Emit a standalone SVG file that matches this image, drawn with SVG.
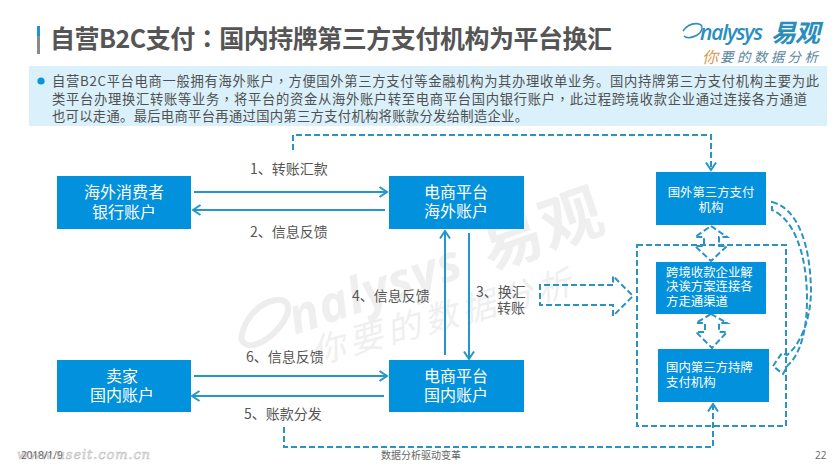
<svg xmlns="http://www.w3.org/2000/svg" width="840" height="472" viewBox="0 0 840 472">
<style>
text{font-family:"Noto Sans CJK SC","Open Sans",sans-serif}
.tc{font-family:"Noto Sans CJK TC",sans-serif}
.box{fill:#0291dc}
.nt{fill:#fff;font-size:16px;text-anchor:middle}
.st{fill:#fff;font-size:12.4px}
.lb{fill:#555;font-size:14px}
.band{fill:#505050;font-size:13.3px}
.ln{fill:none;stroke:#2496ca;stroke-width:2}
.ds{fill:none;stroke:#2b93c4;stroke-width:2;stroke-dasharray:6 3}
.ft{fill:#666;font-size:10px}
.wm{fill:#efefef}
</style>
<defs>
<marker id="ah" viewBox="0 0 12 12" refX="10.5" refY="6" markerWidth="12" markerHeight="12" markerUnits="userSpaceOnUse" orient="auto"><path d="M3 1L10.5 6L3 11" fill="none" stroke="#2496ca" stroke-width="2"/></marker>
</defs>
<rect width="840" height="472" fill="#fff"/>
<g id="watermark">
<g transform="translate(295 335) rotate(-19)">
<path d="M-52 -14C-40 -40 -6 -46 2 -34C8 -22 -22 -2 -42 -4C-50 -5 -52 -10 -52 -14Z" fill="none" stroke="#ededed" stroke-width="6"/>
<text x="0" y="0" class="wm" font-size="50" font-weight="700" font-style="italic" style="font-family:'Open Sans',sans-serif" textLength="180">nalysys</text>
<text x="205" y="2" class="wm" font-size="62" font-weight="700" textLength="125">易观</text>
</g>
<text transform="translate(315 365) rotate(-15.5)" class="wm" font-size="34" font-style="italic" textLength="268">你要的数据分析</text>
</g>
<g id="title">
<rect x="37" y="26" width="3" height="10" fill="#1b95d3"/>
<rect x="37" y="36" width="3" height="18" fill="#8a8a8a"/>
<text x="50" y="48" font-size="25" font-weight="700" fill="#555" class="tc" textLength="562" lengthAdjust="spacing">自营B2C支付：国内持牌第三方支付机构为平台换汇</text>
</g>
<g id="logo">
<path d="M683 31C690 21 704 22 702 29C700 36 688 40 684 36" fill="none" stroke="#2d8fb8" stroke-width="1.6"/>
<text x="700" y="40" font-size="21" font-weight="600" font-style="italic" fill="#2a8ebc" style="font-family:'Open Sans',sans-serif" textLength="63">nalysys</text>
<text x="771" y="42" font-size="25" font-weight="700" font-style="italic" fill="#2a8ebc" textLength="49">易观</text>
<text x="702" y="63" font-size="16" font-style="italic" fill="#d99a4e">你</text>
<text x="720" y="62" font-size="13.5" font-style="italic" fill="#5a87a0" textLength="98">要的数据分析</text>
</g>
<g id="intro">
<rect x="29" y="66" width="798" height="60" fill="#daf0fb"/>
<circle cx="41" cy="81" r="3.6" fill="#0a94dc"/>
<text x="52" y="86" class="band" textLength="767" lengthAdjust="spacing">自营B2C平台电商一般拥有海外账户<tspan class="tc">，</tspan>方便国外第三方支付等金融机构为其办理收单业务。国内持牌第三方支付机构主要为此</text>
<text x="52" y="104" class="band" textLength="755" lengthAdjust="spacing">类平台办理换汇转账等业务<tspan class="tc">，</tspan>将平台的资金从海外账户转至电商平台国内银行账户<tspan class="tc">，</tspan>此过程跨境收款企业通过连接各方通道</text>
<text x="52" y="121" class="band" textLength="476" lengthAdjust="spacing">也可以走通。最后电商平台再通过国内第三方支付机构将账款分发给制造企业。</text>
</g>
<g id="connectors">
<path class="ln" d="M194 192H387" marker-end="url(#ah)"/>
<path class="ln" d="M385 210H193" marker-end="url(#ah)"/>
<path class="ln" d="M194 376H387" marker-end="url(#ah)"/>
<path class="ln" d="M384 396H192" marker-end="url(#ah)"/>
<path class="ln" d="M445 355V231" marker-end="url(#ah)"/>
<path class="ln" d="M469 233V359" marker-end="url(#ah)"/>
<path class="ds" d="M293 150V135H711V170" marker-end="url(#ah)"/>
<path class="ds" d="M284 427V447H713V404" marker-end="url(#ah)"/>
<path class="ds" d="M613 285H540V305H613V316L633 296L613 276V285"/>
<path class="ds" d="M711 226L727 237H719V246H727L711 261L695 246H704V237H695Z"/>
<path class="ds" d="M711 314L727 323H719V332H727L712 348L696 332H705V323H696Z"/>
<path class="ds" d="M772 202C796 208 810 240 811 290C811 320 800 345 787 355L782 353L773 366L783 374L788 365C800 355 807 330 807 300C807 250 792 218 772 210Z"/>
<rect class="ds" x="637" y="245" width="149" height="181"/>
</g>
<g id="n1"><rect class="box" x="57" y="176" width="134" height="53"/><text class="nt" x="124" y="198">海外消费者</text><text class="nt" x="124" y="218">银行账户</text></g>
<g id="n2"><rect class="box" x="389" y="176" width="135" height="53"/><text class="nt" x="456" y="198">电商平台</text><text class="nt" x="456" y="217">海外账户</text></g>
<g id="n3"><rect class="box" x="57" y="360" width="134" height="52"/><text class="nt" x="122" y="382">卖家</text><text class="nt" x="122" y="401">国内账户</text></g>
<g id="n4"><rect class="box" x="389" y="360" width="135" height="52"/><text class="nt" x="456" y="382">电商平台</text><text class="nt" x="456" y="401">国内账户</text></g>
<g id="n5"><rect class="box" x="656" y="172" width="110" height="53"/><text class="st" x="711" y="197" text-anchor="middle">国外第三方支付</text><text class="st" x="711" y="212" text-anchor="middle">机构</text></g>
<g id="n6"><rect class="box" x="656" y="262" width="110" height="52"/><text class="st" x="666" y="277">跨境收款企业解</text><text class="st" x="666" y="291">决诶方案连接各</text><text class="st" x="666" y="306">方走通渠道</text></g>
<g id="n7"><rect class="box" x="658" y="349" width="111" height="53"/><text class="st" x="666" y="372">国内第三方持牌</text><text class="st" x="666" y="387">支付机构</text></g>
<g id="labels">
<text class="lb" x="250" y="174">1、转账汇款</text>
<text class="lb" x="250" y="237">2、信息反馈</text>
<text class="lb" x="352" y="301">4、信息反馈</text>
<text class="lb" x="476" y="297">3、换汇</text>
<text class="lb" x="497" y="313">转账</text>
<text class="lb" x="246" y="362">6、信息反馈</text>
<text class="lb" x="244" y="419">5、账款分发</text>
</g>
<g id="footer">
<text x="17" y="459" font-size="13" font-style="italic" fill="#fff" stroke="#c4c4c4" stroke-width=".7" letter-spacing=".9" style="font-family:'DejaVu Serif',serif">www.useit.com.cn</text>
<text class="ft" x="21" y="459" style="font-family:'Open Sans',sans-serif">2018/1/9</text>
<text class="ft" x="381" y="459">数据分析驱动变革</text>
<text class="ft" x="815" y="459" style="font-family:'Open Sans',sans-serif">22</text>
</g>
</svg>
